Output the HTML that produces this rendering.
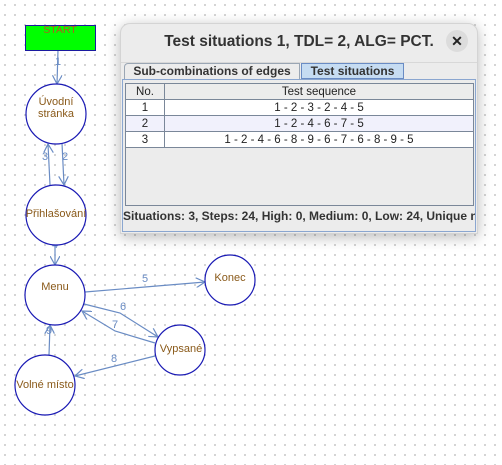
<!DOCTYPE html>
<html><head><style>
body{margin:0;width:502px;height:465px;overflow:hidden;background:#fff;position:relative;font-family:"Liberation Sans",sans-serif;}
.grid{position:absolute;left:0;top:0;width:502px;height:465px;background-image:radial-gradient(circle,#b8b8b8 0.7px,transparent 1px);background-size:10px 10px;background-position:0px 0px;}
svg{position:absolute;left:0;top:0}
.dlg{position:absolute;left:120px;top:23px;width:356px;height:209px;background:#ececec;border:1px solid #d4d4d4;border-radius:10px 10px 0 0;box-shadow:0 3px 14px rgba(0,0,0,0.28);}
.title{position:absolute;left:0;top:9px;width:100%;text-align:center;font-size:15.5px;font-weight:bold;color:#333;}
.close{position:absolute;left:325px;top:6px;width:22px;height:22px;border-radius:11px;background:#dcdcdc;text-align:center;font-size:14px;line-height:22px;font-weight:bold;color:#222}
.sep{position:absolute;left:0;top:38px;width:100%;border-top:1px solid #d8d8d8}
.tab{position:absolute;top:39px;height:16px;font-size:12px;font-weight:bold;color:#333;line-height:14px;text-align:center}
.panel{position:absolute;left:1px;top:55px;width:352px;height:151px;border:1px solid #8aa6d0;}
table{position:absolute;left:2px;top:3px;width:349px;border-collapse:collapse;font-size:11.5px;color:#222}
td{border:1px solid #7a8799;height:15px;padding:0;text-align:center;line-height:14px}
.foot{position:absolute;left:0;top:129px;font-size:12px;font-weight:bold;color:#333;white-space:nowrap;width:352px;overflow:hidden}
</style></head><body>
<div class="grid"></div>
<svg width="502" height="465" font-family="Liberation Sans,sans-serif">
<defs><marker id="a" markerWidth="10" markerHeight="10" refX="9" refY="5" orient="auto" markerUnits="userSpaceOnUse"><path d="M0,0 L9,5 L0,10" fill="none" stroke="#6a8cc4" stroke-width="1.2"/></marker></defs>
<g stroke="#6a8cc4" stroke-width="1.2" fill="none">
<line x1="58" y1="50" x2="57" y2="84" marker-end="url(#a)"/>
<path d="M62,143 L64,185" marker-end="url(#a)"/>
<path d="M50,185 L48,144" marker-end="url(#a)"/>
<line x1="55" y1="243" x2="55" y2="265" marker-end="url(#a)"/>
<line x1="85" y1="292" x2="205" y2="282" marker-end="url(#a)"/>
<path d="M84,304 L120,313 L158,337" marker-end="url(#a)"/>
<path d="M155,343 L115,331 L82,311" marker-end="url(#a)"/>
<line x1="155" y1="356" x2="75" y2="376" marker-end="url(#a)"/>
<line x1="49" y1="355" x2="50" y2="325" marker-end="url(#a)"/>
</g>
<g fill="#6a8cc4" font-size="11">
<text x="55" y="65">1</text><text x="62" y="160">2</text><text x="42" y="160">3</text>
<text x="52" y="248">4</text><text x="142" y="282">5</text><text x="120" y="310">6</text>
<text x="112" y="328">7</text><text x="111" y="362">8</text><text x="46" y="334">9</text>
</g>
<rect x="25.5" y="25.5" width="70" height="25" fill="#00ff00" stroke="#1a1aa0"/>
<text x="60" y="33" fill="#b05a20" font-size="10.5" text-anchor="middle">START</text>
<g fill="#fff" stroke="#1a1ab4" stroke-width="1.2">
<circle cx="56" cy="114" r="30"/><circle cx="56" cy="215" r="30"/><circle cx="55" cy="295" r="30"/>
<circle cx="230" cy="280" r="25"/><circle cx="180" cy="350" r="25"/><circle cx="45" cy="385" r="30"/>
</g>
<g fill="#8a5a1a" font-size="11" text-anchor="middle">
<text x="56" y="105">Úvodní</text><text x="56" y="117">stránka</text>
<text x="56" y="217">Přihlašování</text><text x="55" y="290">Menu</text>
<text x="230" y="281">Konec</text><text x="181" y="352">Vypsané</text><text x="45" y="388">Volné místo</text>
</g>
</svg>
<div class="dlg">
<div class="title">Test situations 1, TDL= 2, ALG= PCT.</div>
<div class="close">✕</div>
<div class="sep"></div>
<div class="tab" style="left:3px;width:174px;border:1px solid #9aa6b4;border-bottom:none;border-radius:4px 0 0 0">Sub-combinations of edges</div>
<div class="tab" style="left:180px;width:101px;height:14px;background:#c6dcf2;border:1px solid #6a8cc4;">Test situations</div>
<div class="panel">
<table>
<tr style="background:#ececec"><td style="width:38px">No.</td><td>Test sequence</td></tr>
<tr style="background:#fff"><td>1</td><td>1 - 2 - 3 - 2 - 4 - 5</td></tr>
<tr style="background:#f1f1fc"><td>2</td><td>1 - 2 - 4 - 6 - 7 - 5</td></tr>
<tr style="background:#fff"><td>3</td><td>1 - 2 - 4 - 6 - 8 - 9 - 6 - 7 - 6 - 8 - 9 - 5</td></tr>
</table>
<div style="position:absolute;left:2px;top:3px;width:347px;height:121px;border:1px solid #7a8799;border-top-color:transparent"></div>
<div class="foot">Situations: 3, Steps: 24, High: 0, Medium: 0, Low: 24, Unique nodes</div>
</div>
</div>
</body></html>
